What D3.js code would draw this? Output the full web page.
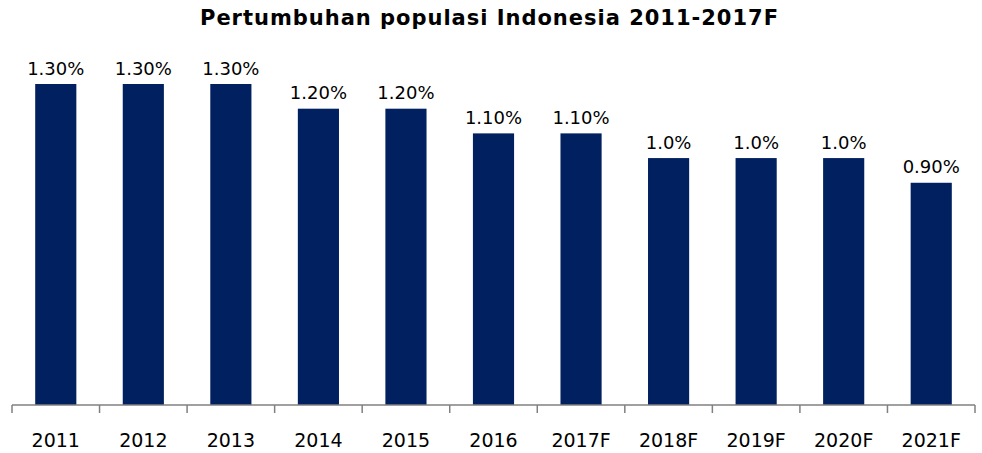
<!DOCTYPE html>
<html>
<head>
<meta charset="utf-8">
<script src="https://cdn.jsdelivr.net/npm/d3@7"></script>
<style>
  body { margin: 0; background: #fff; }
  text { font-family: "DejaVu Sans", Verdana, sans-serif; }
</style>
</head>
<body>
<div id="chart"></div>
<script>
// Chart data
const years = ["2011", "2012", "2013", "2014", "2015", "2016", "2017F", "2018F", "2019F", "2020F", "2021F"];
const growth = [1.3, 1.3, 1.3, 1.2, 1.2, 1.1, 1.1, 1.0, 1.0, 1.0, 0.9];
const valueLabels = ["1.30%", "1.30%", "1.30%", "1.20%", "1.20%", "1.10%", "1.10%", "1.0%", "1.0%", "1.0%", "0.90%"];
const title = "Pertumbuhan populasi Indonesia 2011-2017F";

const width = 982;
const height = 453;
const axisY = 405;

const data = years.map((y, i) => ({ year: y, value: growth[i], label: valueLabels[i] }));

const svg = d3.select("#chart").append("svg")
    .attr("width", width)
    .attr("height", height);

// Scales
const x = d3.scaleBand()
  .domain(years)
  .range([12, 975])
  .paddingInner(0.53)
  .paddingOuter(0.265);

const y = d3.scaleLinear()
  .domain([0, 1.3])
  .range([axisY, 84]);

// Title
svg.append("text")
  .attr("x", 489)
  .attr("y", 25)
  .attr("text-anchor", "middle")
  .attr("font-weight", "bold")
  .attr("font-size", 21)
  .attr("textLength", 578)
  .attr("lengthAdjust", "spacing")
  .attr("fill", "#000")
  .text(title);

// Bars
svg.selectAll("rect.bar")
  .data(data)
  .join("rect")
    .attr("class", "bar")
    .attr("x", d => x(d.year))
    .attr("y", d => y(d.value))
    .attr("width", x.bandwidth())
    .attr("height", d => axisY - y(d.value))
    .attr("fill", "#002060");

// Value labels
svg.selectAll("text.val")
  .data(data)
  .join("text")
    .attr("class", "val")
    .attr("x", d => x(d.year) + x.bandwidth() / 2)
    .attr("y", d => y(d.value) - 9.5)
    .attr("text-anchor", "middle")
    .attr("font-size", 18)
    .attr("fill", "#000")
    .text(d => d.label);

// Category axis: ticks between categories
const edges = d3.range(years.length + 1).map(i => 12 + i * (963 / years.length));
const axis = svg.append("g");
axis.append("line")
  .attr("x1", 12).attr("x2", 975)
  .attr("y1", axisY).attr("y2", axisY)
  .attr("stroke", "#808080")
  .attr("stroke-width", 1.5);
axis.selectAll("line.tick")
  .data(edges)
  .join("line")
    .attr("class", "tick")
    .attr("x1", d => d).attr("x2", d => d)
    .attr("y1", axisY).attr("y2", axisY + 8)
    .attr("stroke", "#808080")
    .attr("stroke-width", 1.5);

axis.selectAll("text.cat")
  .data(years)
  .join("text")
    .attr("class", "cat")
    .attr("x", d => x(d) + x.bandwidth() / 2)
    .attr("y", 447)
    .attr("text-anchor", "middle")
    .attr("font-size", 19)
    .attr("fill", "#000")
    .text(d => d);
</script>
</body>
</html>
